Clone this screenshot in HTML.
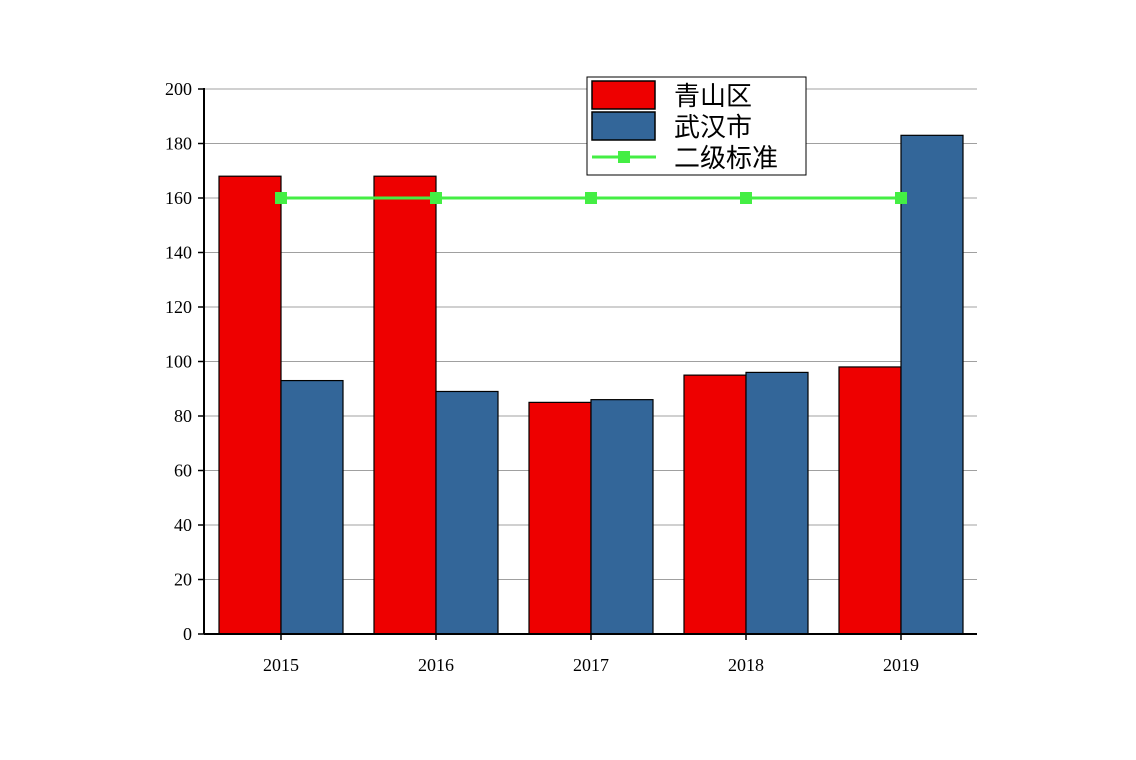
<!DOCTYPE html>
<html><head><meta charset="utf-8"><style>
html,body{margin:0;padding:0;background:#fff;}
svg{display:block;}
text{font-family:"Liberation Serif","Noto Serif CJK SC",serif;}
.cjk{font-family:"Liberation Sans","WenQuanYi Zen Hei",sans-serif;}
</style></head><body>
<svg id="chart" width="1136" height="760" xmlns="http://www.w3.org/2000/svg">
<g id="grid"></g>
<g id="bars"></g>
<g id="line"></g>
<g id="axes"></g>
<g>
<rect x="587" y="77" width="219" height="98" fill="#fff" stroke="#000" stroke-width="1"/>
<rect x="592" y="81" width="63" height="28" fill="#ee0000" stroke="#000" stroke-width="1.5"/>
<text class="cjk" x="674" y="105" font-size="26">青山区</text>
<rect x="592" y="112" width="63" height="28" fill="#336699" stroke="#000" stroke-width="1.5"/>
<text class="cjk" x="674" y="136" font-size="26">武汉市</text>
<line x1="592" y1="157" x2="656" y2="157" stroke="#44ee44" stroke-width="3"/>
<rect x="618" y="151" width="12" height="12" fill="#44ee44"/>
<text class="cjk" x="674" y="167" font-size="26">二级标准</text>
</g>
</svg>
<script>
const categories=["2015","2016","2017","2018","2019"];
const qingshan=[168,168,85,95,98];
const wuhan=[93,89,86,96,183];
const standard=[160,160,160,160,160];
const yTicks=[0,20,40,60,80,100,120,140,160,180,200];
const NS="http://www.w3.org/2000/svg";
const x0=204,x1=977,yBase=634,yTop=89,yMax=200;
const y=v=>yBase-(v/yMax)*(yBase-yTop);
const xc=i=>281+i*155;
const bw=62;
function mk(tag,attrs,parent){const e=document.createElementNS(NS,tag);for(const k in attrs)e.setAttribute(k,attrs[k]);parent.appendChild(e);return e;}
const grid=document.getElementById('grid'),bars=document.getElementById('bars'),line=document.getElementById('line'),axes=document.getElementById('axes');
yTicks.forEach(t=>{
  if(t>0){const g=mk('line',{x1:x0,x2:x1,y1:y(t),y2:y(t),stroke:'#a0a0a0','stroke-width':1},grid);
  
  }
  mk('line',{x1:x0-6,x2:x0,y1:y(t),y2:y(t),stroke:'#000','stroke-width':1.5},axes);
  const tx=mk('text',{x:x0-12,y:y(t)+6,'font-size':18,'text-anchor':'end'},axes);
  tx.textContent=t;
  
  
});
categories.forEach((c,i)=>{
  const r=mk('rect',{x:xc(i)-bw,y:y(qingshan[i]),width:bw,height:yBase-y(qingshan[i]),fill:'#ee0000',stroke:'#000','stroke-width':1.2},bars);
  
  
  const b=mk('rect',{x:xc(i),y:y(wuhan[i]),width:bw,height:yBase-y(wuhan[i]),fill:'#336699',stroke:'#000','stroke-width':1.2},bars);
  
  
  mk('line',{x1:xc(i),x2:xc(i),y1:yBase,y2:yBase+6,stroke:'#000','stroke-width':1.5},axes);
  const tx=mk('text',{x:xc(i),y:yBase+37,'font-size':18,'text-anchor':'middle'},axes);
  tx.textContent=c;
  
  
});
const pts=standard.map((v,i)=>xc(i)+','+y(v)).join(' ');
const pl=mk('polyline',{points:pts,fill:'none',stroke:'#44ee44','stroke-width':3},line);


standard.forEach((v,i)=>{
  const m=mk('rect',{x:xc(i)-6,y:y(v)-6,width:12,height:12,fill:'#44ee44'},line);
  
  
});
const ya=mk('line',{x1:x0,x2:x0,y1:yTop-1,y2:yBase,stroke:'#000','stroke-width':2},axes);


const xa=mk('line',{x1:x0,x2:x1,y1:yBase,y2:yBase,stroke:'#000','stroke-width':2},axes);


</script>
</body></html>
